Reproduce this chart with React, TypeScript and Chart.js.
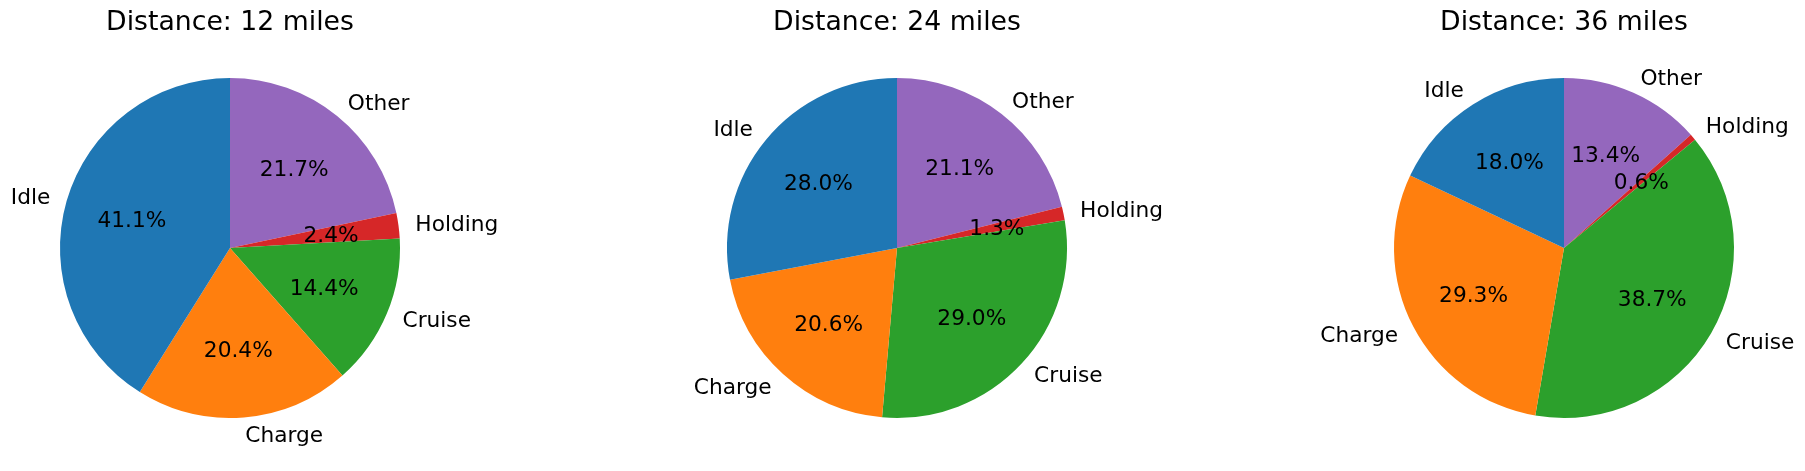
import React, { useEffect, useRef } from "react";
import { Chart, registerables } from "chart.js";

Chart.register(...registerables);

const categories = ["Idle", "Charge", "Cruise", "Holding", "Other"];
const colors = ["#1f77b4", "#ff7f0e", "#2ca02c", "#d62728", "#9467bd"];
const distances = [12, 24, 36];
const shares12 = [41.1, 20.4, 14.4, 2.4, 21.7];
const shares24 = [28.0, 20.6, 29.0, 1.3, 21.1];
const shares36 = [18.0, 29.3, 38.7, 0.6, 13.4];
const seriesList = [shares12, shares24, shares36];

const FONT = '"DejaVu Sans", sans-serif';
const LABEL_SIZE = 21.7;
const TITLE_SIZE = 26.7;

const PAGE_W = 1805;
const PAGE_H = 471;
const CANVAS_W = 601;
const canvasLefts = [0, 602, 1204];
const pieCentersX = [230, 897, 1564];
const PIE_R = 170;
const PIE_TOP = 78;

const mplPiePlugin = {
  id: "mplPie",
  afterDatasetsDraw(chart: any, _args: any, opts: any) {
    const ctx = chart.ctx;
    const meta = chart.getDatasetMeta(0);
    const labels = chart.data.labels as string[];
    const data = chart.data.datasets[0].data as number[];
    const total = data.reduce((a, b) => a + b, 0);
    ctx.save();
    ctx.fillStyle = "#000";
    ctx.font = `${LABEL_SIZE}px ${FONT}`;
    ctx.textBaseline = "alphabetic";
    const off = 7.3;
    meta.data.forEach((arc: any, i: number) => {
      const p = arc.getProps(["x", "y", "startAngle", "endAngle", "outerRadius"], true);
      const mid = (p.startAngle + p.endAngle) / 2;
      const c = Math.cos(mid);
      const s = Math.sin(mid);
      ctx.textAlign = c > 0 ? "left" : "right";
      ctx.fillText(labels[i], p.x + 1.1 * p.outerRadius * c, p.y + 1.1 * p.outerRadius * s + off);
      ctx.textAlign = "center";
      ctx.fillText(
        ((data[i] / total) * 100).toFixed(1) + "%",
        p.x + 0.6 * p.outerRadius * c,
        p.y + 0.6 * p.outerRadius * s + off
      );
    });
    ctx.font = `${TITLE_SIZE}px ${FONT}`;
    ctx.textAlign = "center";
    ctx.fillText(opts.title, (chart.chartArea.left + chart.chartArea.right) / 2, 29.5);
    ctx.restore();
  },
};

function PieCanvas({ index }: { index: number }) {
  const ref = useRef<HTMLCanvasElement>(null);
  useEffect(() => {
    if (!ref.current) return;
    const values = seriesList[index];
    // matplotlib draws counter-clockwise from the top; Chart.js draws clockwise,
    // so the order is reversed to obtain the same layout.
    const labels = [...categories].reverse();
    const data = [...values].reverse();
    const bg = [...colors].reverse();
    const localCx = pieCentersX[index] - canvasLefts[index];
    const chart = new Chart(ref.current, {
      type: "pie",
      data: {
        labels,
        datasets: [{ data, backgroundColor: bg, borderWidth: 0, hoverOffset: 0 }],
      },
      options: {
        responsive: false,
        animation: false,
        devicePixelRatio: 1,
        layout: {
          padding: {
            left: localCx - PIE_R,
            right: CANVAS_W - (localCx + PIE_R),
            top: PIE_TOP,
            bottom: PAGE_H - (PIE_TOP + 2 * PIE_R),
          },
        },
        plugins: {
          legend: { display: false },
          tooltip: { enabled: false },
          title: { display: false },
          mplPie: { title: `Distance: ${distances[index]} miles` },
        } as any,
      },
      plugins: [mplPiePlugin],
    });
    return () => chart.destroy();
  }, [index]);
  return (
    <canvas
      ref={ref}
      width={CANVAS_W}
      height={PAGE_H}
      style={{ position: "absolute", left: canvasLefts[index], top: 0, width: CANVAS_W, height: PAGE_H }}
    />
  );
}

export default function App() {
  return (
    <div
      style={{
        position: "fixed",
        left: 0,
        top: 0,
        width: PAGE_W,
        height: PAGE_H,
        background: "#fff",
        overflow: "hidden",
      }}
    >
      {distances.map((_, i) => (
        <PieCanvas key={i} index={i} />
      ))}
    </div>
  );
}
